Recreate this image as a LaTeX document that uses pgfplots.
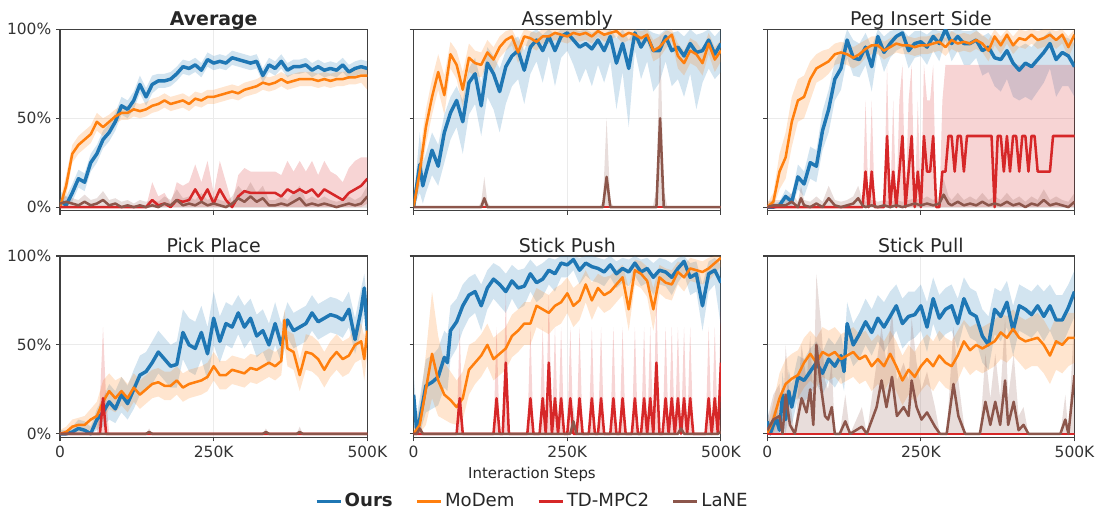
\documentclass[border=0pt]{standalone}
\usepackage{pgfplots}
\pgfplotsset{compat=1.18}
\usepackage{pgfplotstable}
\usepackage{fontspec}
\setmainfont{DejaVu Sans}
\definecolor{cO}{HTML}{1F77B4}
\definecolor{cM}{HTML}{FF7F0E}
\definecolor{cT}{HTML}{D62728}
\definecolor{cL}{HTML}{8C564B}

% ---------------- Average ----------------
\pgfplotstableread{
x y l h
0 4 0 9
10 1 0 6
20 8 3 13
30 16 11 21
40 14 9 19
50 25 20 30
60 30 25 35
70 38 33 43
80 42 37 47
90 48 43 53
100 57 52 62
110 55 50 60
120 60 55 65
130 69 64 74
140 62 57 67
150 69 64 74
160 71 67 75
170 71 67 75
180 72 68 76
190 75 71 79
200 79 75 83
210 78 74 82
220 80 76 84
230 77 73 81
240 83 79 87
250 81 77 85
260 82 78 86
270 81 77 85
280 84 80 88
290 83 79 87
300 82 78 86
310 81 77 85
320 82 78 86
330 74 70 78
340 80 76 84
350 78 74 82
360 82 78 86
370 77 73 81
380 79 75 83
390 79 75 83
400 80 76 84
410 77 73 81
420 79 75 83
430 77 73 81
440 78 74 82
450 77 73 81
460 80 76 84
470 76 72 80
480 78 74 82
490 79 75 83
500 78 74 82
}\AvgO
\pgfplotstableread{
x y l h
0 0 0 3
10 12 6 18
20 30 25 35
30 35 30 40
40 38 33 43
50 41 36 46
60 48 43 53
70 45 40 50
80 48 44 52
90 51 47 55
100 53 49 57
110 53 49 57
120 55 51 59
130 54 50 58
140 55 51 59
150 57 53 61
160 58 54 62
170 60 56 64
180 58 54 62
190 59 55 63
200 60 56 64
210 58 54 62
220 61 57 65
230 60 56 64
240 62 58 66
250 62 58 66
260 63 59 67
270 64 60 68
280 65 61 69
290 64 60 68
300 66 62 70
310 67 63 71
320 68 64 72
330 70 66 74
340 69 65 73
350 70 66 74
360 72 68 76
370 70 66 74
380 71 67 75
390 72 68 76
400 72 68 76
410 72 68 76
420 71 67 75
430 72 68 76
440 71 67 75
450 72 68 76
460 72 68 76
470 73 69 77
480 73 69 77
490 74 70 78
500 74 66 78
}\AvgM
\pgfplotstableread{
x y l h
0 0 0 0
140 0 0 0
150 4 0 14
160 1 0 6
170 2 0 8
180 0 0 2
190 4 0 14
200 3 0 12
210 4 0 14
220 10 0 24
230 4 0 14
240 10 0 26
250 2 0 8
260 10 0 26
270 4 0 14
280 0 0 2
290 6 0 18
300 9 0 22
310 8 0 20
320 8 0 20
330 8 0 20
340 8 0 20
350 8 0 20
360 6 0 18
370 10 0 26
380 8 0 20
390 10 0 26
400 8 0 20
410 10 0 26
420 6 0 18
430 10 0 26
440 8 0 20
450 6 0 18
460 4 0 14
470 8 0 22
480 10 0 26
490 12 0 28
500 16 2 28
}\AvgT
\pgfplotstableread{
x y l h
0 2 0 5
10 3 0 6
20 2 0 5
30 1 0 4
40 3 0 7
50 1 0 4
60 2 0 5
70 4 0 9
80 1 0 4
90 2 0 5
100 0 0 3
110 1 0 4
120 0 0 2
130 1 0 4
140 0 0 3
150 1 0 4
160 0 0 3
170 2 0 6
180 1 0 4
190 4 0 10
200 1 0 5
210 2 0 6
220 1 0 4
230 3 0 8
240 1 0 4
250 2 0 6
260 1 0 4
270 0 0 3
280 2 0 6
290 5 0 12
300 3 0 8
310 6 0 14
320 3 0 8
330 5 0 12
340 1 0 4
350 1 0 4
360 2 0 6
370 1 0 4
380 3 0 8
390 5 0 12
400 1 0 4
410 2 0 6
420 1 0 4
430 2 0 6
440 1 0 4
450 0 0 3
460 1 0 4
470 2 0 6
480 1 0 4
490 2 0 6
500 6 0 12
}\AvgL

% ---------------- Assembly ----------------
\pgfplotstableread{
x y l h
0 0 0 3
10 24 8 42
15 12 2 25
20 19 8 30
30 32 18 42
40 23 12 35
50 42 25 52
60 53 38 62
70 60 45 68
80 48 30 60
90 70 52 78
100 75 58 84
110 57 40 70
120 81 62 90
130 75 55 85
140 65 42 78
150 79 58 88
160 85 68 94
170 88 72 96
180 77 58 88
190 90 75 98
200 94 82 100
210 88 70 97
220 96 85 100
230 88 68 97
240 96 84 100
250 98 88 100
260 94 80 100
270 90 70 99
280 92 78 100
290 89 68 98
300 94 80 100
310 88 70 97
320 96 82 100
330 81 55 95
340 92 76 100
350 78 45 94
360 98 88 100
370 90 72 100
380 96 82 100
390 88 65 98
400 88 70 97
410 96 82 100
420 88 68 98
430 90 72 99
440 85 62 96
450 92 75 100
460 87 55 97
470 88 70 98
480 94 78 100
490 86 72 96
500 92 76 100
}\AsmO
\pgfplotstableread{
x y l h
0 0 0 2
10 20 12 30
20 45 35 55
30 62 52 72
40 76 66 86
50 63 52 74
60 86 78 93
70 80 72 88
80 66 56 76
90 84 76 92
100 81 74 88
110 80 73 87
120 87 80 94
130 83 76 90
140 90 84 96
150 94 88 99
160 96 91 100
170 87 81 93
180 96 91 100
190 95 90 99
200 93 88 98
210 96 92 100
220 96 92 100
230 98 94 100
240 97 93 100
250 96 92 100
260 98 94 100
270 97 93 100
280 98 94 100
290 96 92 100
300 99 96 100
310 97 93 100
320 98 94 100
330 99 96 100
340 96 92 100
350 98 94 100
360 97 93 100
370 95 90 99
380 97 93 100
390 88 82 94
400 90 84 96
410 94 89 99
420 97 93 100
430 85 78 92
440 81 74 88
450 88 81 95
460 86 79 93
470 81 74 88
480 92 86 98
490 83 76 90
500 88 82 94
}\AsmM
\pgfplotstableread{
x y l h
0 0 0 0
500 0 0 0
}\AsmT
\pgfplotstableread{
x y l h
0 0 0 0
105 0 0 0
110 0 0 3
115 5 0 17
120 0 0 3
125 0 0 0
302 0 0 0
308 0 0 3
314 17 0 50
320 0 0 3
326 0 0 0
389 0 0 0
395 0 0 10
401 50 0 100
407 0 0 10
413 0 0 0
500 0 0 0
}\AsmL

% ---------------- Peg Insert Side ----------------
\pgfplotstableread{
x y l h
0 0 0 1
10 0 0 2
20 1 0 3
30 6 2 10
40 3 0 7
50 17 10 24
60 13 6 20
70 25 16 34
80 23 14 32
90 43 32 54
100 55 42 66
110 72 60 82
120 78 66 88
130 94 84 100
140 84 74 94
150 83 73 92
160 90 80 98
170 79 65 90
180 96 88 100
190 87 76 96
200 92 84 99
210 96 88 100
220 98 90 100
230 88 78 96
240 92 84 99
250 93 85 99
260 90 80 97
270 96 88 100
280 92 82 99
290 100 94 100
300 92 82 99
310 96 88 100
320 92 80 99
330 92 80 99
340 94 84 100
350 88 74 96
360 90 76 98
370 84 68 94
380 83 65 94
390 88 72 96
400 81 62 92
410 77 60 90
420 81 62 92
430 79 60 90
440 83 65 94
450 87 70 96
460 92 78 99
470 83 62 94
480 87 68 96
490 85 68 95
500 79 62 92
}\PegO
\pgfplotstableread{
x y l h
0 0 0 2
10 3 0 8
20 20 10 30
30 28 16 42
40 48 34 62
50 60 48 72
60 62 50 74
70 72 60 82
80 78 70 86
90 80 72 88
100 82 75 89
110 86 80 92
120 87 81 93
130 86 80 92
140 84 78 90
150 86 80 92
160 89 84 94
170 91 86 96
180 91 86 96
190 88 83 93
200 90 85 95
210 92 87 97
220 91 86 96
230 91 86 96
240 90 85 95
250 91 86 96
260 91 86 96
270 92 87 97
280 93 88 98
290 90 85 95
300 94 89 99
310 92 87 97
320 93 88 98
330 92 87 97
340 94 89 99
350 92 87 97
360 88 82 94
370 96 91 100
380 91 86 96
390 97 92 100
400 91 86 96
410 95 90 100
420 94 89 99
430 97 92 100
440 94 89 99
450 95 90 100
460 97 92 100
470 94 89 99
480 97 92 100
490 90 84 96
500 97 92 100
}\PegM
\pgfplotstableread{
x y l h
0 0 0 0
155 0 0 0
160 20 0 60
165 0 0 0
170 20 0 60
175 0 0 0
190 0 0 0
195 40 0 80
200 0 0 0
205 20 0 60
210 0 0 0
215 20 0 60
220 40 0 80
225 0 0 0
230 20 0 60
235 40 0 80
240 0 0 0
245 20 0 60
250 0 0 0
255 40 0 80
260 20 0 60
265 20 0 60
270 40 0 80
275 0 0 0
280 0 0 0
285 20 0 60
290 20 0 80
295 40 0 80
300 40 0 80
305 20 0 80
310 40 0 80
315 40 0 80
320 20 0 80
325 40 0 80
330 40 0 80
340 40 0 80
350 40 0 80
360 40 0 80
365 40 0 80
370 0 0 80
375 40 0 80
380 40 0 80
385 20 0 80
390 40 0 80
395 20 0 80
400 40 0 80
405 40 0 80
410 20 0 80
415 40 0 80
420 40 0 80
425 20 0 80
430 40 0 80
435 40 0 80
440 20 0 80
450 20 0 80
460 20 0 80
465 40 0 80
480 40 0 80
500 40 0 80
}\PegT
\pgfplotstableread{
x y l h
0 0 0 3
10 1 0 4
20 1 0 4
30 1 0 4
40 3 0 8
50 0 0 3
55 5 0 12
60 1 0 4
70 0 0 3
80 2 0 6
90 0 0 3
100 5 0 12
110 1 0 4
120 0 0 3
130 1 0 4
140 2 0 6
148 5 0 12
155 1 0 4
160 0 0 3
170 1 0 4
180 0 0 3
190 1 0 4
200 0 0 3
210 1 0 4
220 0 0 3
230 1 0 4
240 2 0 5
250 1 0 4
260 2 0 6
270 1 0 4
280 2 0 6
287 7 0 16
295 2 0 6
300 1 0 4
310 3 0 8
320 1 0 4
330 2 0 6
340 1 0 4
350 3 0 8
360 1 0 4
370 2 0 6
380 1 0 4
390 3 0 8
400 1 0 4
410 2 0 6
420 0 0 3
430 2 0 6
440 1 0 4
450 4 0 10
460 1 0 4
470 2 0 6
480 1 0 4
490 0 0 3
500 3 0 8
}\PegL

% ---------------- Pick Place ----------------
\pgfplotstableread{
x y l h
0 0 0 2
10 0 0 2
20 1 0 4
30 3 0 8
40 2 0 7
50 0 0 4
60 8 2 14
70 12 4 20
80 18 8 28
90 14 6 24
100 22 12 32
110 17 8 27
120 25 14 36
130 33 22 44
140 35 24 46
150 40 28 52
160 46 34 58
170 42 30 54
180 38 26 50
190 39 26 52
200 57 42 70
210 50 35 65
220 48 33 63
230 57 42 72
240 45 30 60
250 65 50 80
260 52 40 66
270 62 50 74
280 60 48 72
290 68 56 78
300 60 48 72
310 65 53 76
320 55 43 67
330 58 46 70
340 50 38 62
350 62 50 74
360 50 40 62
370 64 54 74
380 58 48 68
390 60 50 70
400 62 52 72
410 68 58 78
420 63 53 73
430 65 55 75
440 67 57 77
450 66 56 76
460 64 54 74
470 70 60 80
480 53 45 65
490 70 58 82
495 82 68 90
500 58 45 75
}\PicO
\pgfplotstableread{
x y l h
0 0 0 2
10 1 0 4
20 4 0 8
30 5 1 9
40 5 1 10
50 8 2 14
60 10 3 18
70 18 8 30
80 24 14 34
90 20 12 30
100 24 16 32
110 20 12 28
120 26 18 34
130 22 14 30
140 25 17 33
150 28 20 36
160 29 21 37
170 27 19 35
180 27 19 35
190 30 22 38
200 26 18 34
210 28 20 36
220 29 21 37
230 30 22 38
240 32 24 40
250 38 30 46
260 33 25 41
270 33 25 41
280 36 28 44
290 35 27 43
300 34 26 42
310 37 29 45
320 36 28 44
330 38 30 46
340 40 32 48
350 38 30 46
360 41 33 49
365 64 50 70
370 48 38 58
380 46 36 56
390 33 24 42
400 46 36 56
410 45 35 55
420 42 32 52
430 36 26 46
440 42 32 52
450 46 36 56
460 42 32 52
470 44 34 54
480 50 40 60
490 52 42 62
495 42 30 55
500 58 45 68
}\PicM
\pgfplotstableread{
x y l h
0 0 0 0
60 0 0 0
65 0 0 20
70 20 0 60
75 0 0 20
80 0 0 0
500 0 0 0
}\PicT
\pgfplotstableread{
x y l h
0 0 0 0
140 0 0 0
145 1 0 3
150 0 0 0
330 0 0 0
335 1 0 3
340 0 0 0
385 0 0 0
390 1 0 4
395 0 0 0
500 0 0 0
}\PicL

% ---------------- Stick Push ----------------
\pgfplotstableread{
x y l h
0 22 5 35
5 2 0 10
10 8 0 20
20 27 12 42
30 29 14 44
40 32 16 48
50 43 26 58
55 40 24 56
60 58 42 72
70 63 48 76
80 72 58 84
90 78 65 88
100 80 68 90
110 72 58 84
120 82 70 92
130 87 76 96
140 84 72 94
150 80 68 90
160 86 76 95
170 82 70 92
180 83 72 93
190 90 80 98
200 85 74 94
210 87 77 96
220 92 84 99
230 90 80 98
240 96 88 100
250 95 88 100
260 98 92 100
270 92 84 99
280 96 89 100
290 94 86 100
300 93 85 99
310 91 83 98
320 95 88 100
330 90 82 97
340 93 85 99
350 91 83 98
360 96 89 100
370 91 83 98
380 93 85 99
390 88 78 96
400 92 84 99
410 91 83 98
420 88 78 96
430 93 85 99
440 97 90 100
450 88 78 96
460 90 80 97
470 72 58 84
480 90 80 97
490 92 84 99
500 85 60 95
}\PusO
\pgfplotstableread{
x y l h
0 0 0 3
10 5 0 15
20 25 5 45
30 45 20 80
40 30 10 55
50 22 8 40
60 19 6 35
70 15 5 30
80 20 8 35
90 36 22 50
100 40 28 52
110 44 32 56
120 50 38 62
130 42 30 54
140 45 33 57
150 48 36 60
160 55 43 67
170 58 46 70
180 62 50 74
190 62 50 74
200 72 60 82
210 70 58 80
220 68 56 78
230 72 60 82
240 74 62 84
250 79 68 88
260 72 60 82
270 75 64 85
280 84 74 92
290 75 64 85
300 82 72 90
310 78 68 88
320 80 70 89
330 84 74 92
340 88 78 95
350 70 58 82
360 92 84 98
370 90 82 97
380 86 77 94
390 70 58 82
400 88 79 95
410 85 76 93
420 84 75 92
430 91 84 97
440 88 80 95
450 93 86 99
460 92 85 98
470 91 84 97
480 93 86 99
490 96 90 100
500 99 94 100
}\PusM
\pgfplotstableread{
x y l h
0 0 0 0
70 0 0 0
75 20 0 60
80 0 0 0
130 0 0 0
135 20 0 60
140 0 0 0
145 0 0 0
150 40 0 80
155 0 0 0
185 0 0 0
190 20 0 60
195 0 0 0
205 0 0 0
210 20 0 60
215 0 0 0
220 40 0 80
225 0 0 0
230 20 0 60
235 0 0 0
240 20 0 60
245 0 0 0
250 0 0 0
255 20 0 60
260 0 0 0
265 0 0 0
270 20 0 60
275 0 0 0
285 0 0 0
290 20 0 60
295 0 0 0
300 0 0 0
305 20 0 60
310 0 0 0
320 0 0 0
325 20 0 60
330 0 0 0
335 0 0 0
340 20 0 60
345 0 0 0
355 0 0 0
360 20 0 60
365 0 0 0
370 0 0 0
375 20 0 60
380 0 0 0
385 20 0 60
390 0 0 0
395 40 0 80
400 0 0 0
405 0 0 0
410 20 0 60
415 0 0 0
420 20 0 60
425 0 0 0
430 20 0 60
435 0 0 0
440 20 0 60
445 0 0 0
450 20 0 60
455 0 0 0
475 0 0 0
480 20 0 60
485 0 0 0
490 20 0 60
495 0 0 0
500 40 0 80
}\PusT
\pgfplotstableread{
x y l h
0 0 0 0
5 0 0 0
10 3 0 8
15 0 0 0
255 0 0 0
260 7 0 16
265 0 0 0
430 0 0 0
435 3 0 8
440 0 0 0
495 0 0 0
500 1 0 4
}\PusL

% ---------------- Stick Pull ----------------
\pgfplotstableread{
x y l h
0 7 0 15
5 0 0 6
10 5 0 12
15 8 0 16
20 2 0 8
25 22 8 35
30 8 0 18
35 24 12 36
40 15 5 28
50 32 20 44
60 30 18 42
70 35 22 48
80 40 28 52
90 34 22 46
100 42 30 54
110 38 26 50
120 44 32 56
125 35 24 46
130 62 48 74
140 50 38 62
150 56 42 68
160 63 50 76
170 57 44 70
180 65 52 78
190 60 46 74
200 66 52 80
210 72 58 84
220 62 48 76
230 66 52 80
240 67 54 80
250 72 58 84
260 60 46 74
270 76 62 88
280 65 52 78
290 70 56 82
300 72 58 84
310 62 48 76
320 76 62 88
330 68 54 82
340 66 52 80
350 55 40 70
360 50 36 66
370 70 56 82
380 66 52 80
390 74 60 86
400 58 44 72
410 72 58 84
420 70 56 82
430 67 54 80
440 72 58 84
450 66 52 80
460 72 58 84
470 64 50 78
480 64 50 78
490 71 58 84
500 80 66 92
}\PulO
\pgfplotstableread{
x y l h
0 0 0 3
10 8 0 18
20 20 8 34
30 28 15 42
40 31 18 45
50 33 20 47
60 40 26 54
70 45 30 58
80 40 26 54
90 46 32 60
100 44 30 58
110 46 32 60
120 42 28 56
130 44 30 58
140 46 32 60
150 42 28 56
160 44 30 58
170 38 24 52
180 42 28 56
190 38 24 52
200 45 30 58
210 38 24 52
220 30 16 44
230 36 22 50
240 32 18 46
250 38 24 52
260 42 28 56
270 38 24 52
280 44 30 58
290 40 26 54
300 38 24 52
310 44 30 58
320 52 38 64
330 47 33 60
340 50 36 62
350 48 34 60
360 50 36 62
370 52 38 64
380 57 42 68
390 54 40 66
400 59 44 70
410 54 40 66
420 52 36 64
430 53 38 66
440 54 38 68
450 50 34 64
460 44 28 58
470 52 36 66
480 50 34 64
490 54 38 68
500 54 40 68
}\PulM
\pgfplotstableread{
x y l h
0 0 0 0
500 0 0 0
}\PulT
\pgfplotstableread{
x y l h
0 2 0 8
10 8 0 22
20 10 0 28
25 0 0 0
30 22 0 50
37 5 0 18
45 0 0 0
56 20 0 50
64 12 0 30
70 25 0 55
75 5 0 20
80 50 0 90
88 25 0 60
94 10 0 30
99 8 0 25
105 15 0 40
110 0 0 0
118 0 0 0
127 7 0 22
135 0 0 0
154 4 0 15
162 0 0 0
178 15 0 40
186 30 0 60
194 15 0 40
203 32 0 70
211 10 0 30
222 15 0 40
230 10 0 30
235 30 0 65
243 15 0 40
251 8 0 25
260 12 0 35
273 4 0 15
281 0 0 0
292 0 0 0
303 28 0 60
311 10 0 30
322 0 0 0
346 0 0 0
355 18 0 45
363 5 0 20
371 18 0 45
379 5 0 20
387 30 0 65
392 5 0 20
401 18 0 45
409 2 0 10
417 5 0 15
425 0 0 0
477 0 0 0
485 8 0 22
490 0 0 0
500 33 0 70
}\PulL

% band polygon: upper edge forward, lower edge backward
\newcommand{\mkband}[2]{%
  \pgfplotstablesort[sort key=x, sort cmp=float <]{#2}{#1}%
  \pgfplotstablesort[sort key=x, sort cmp=float >]{\tmprev}{#1}%
  \pgfplotstablecreatecol[create col/copy=h]{b}{#2}%
  \pgfplotstablecreatecol[create col/copy=l]{b}{\tmprev}%
  \pgfplotstablevertcat{#2}{\tmprev}%
}
\mkband{\AvgO}{\AvgOb}\mkband{\AvgM}{\AvgMb}\mkband{\AvgT}{\AvgTb}\mkband{\AvgL}{\AvgLb}
\mkband{\AsmO}{\AsmOb}\mkband{\AsmM}{\AsmMb}\mkband{\AsmL}{\AsmLb}
\mkband{\PegO}{\PegOb}\mkband{\PegM}{\PegMb}\mkband{\PegT}{\PegTb}\mkband{\PegL}{\PegLb}
\mkband{\PicO}{\PicOb}\mkband{\PicM}{\PicMb}\mkband{\PicT}{\PicTb}\mkband{\PicL}{\PicLb}
\mkband{\PusO}{\PusOb}\mkband{\PusM}{\PusMb}\mkband{\PusT}{\PusTb}\mkband{\PusL}{\PusLb}
\mkband{\PulO}{\PulOb}\mkband{\PulM}{\PulMb}\mkband{\PulL}{\PulLb}

\newcommand{\bnd}[2]{%
  \addplot[fill=#2, fill opacity=0.2, draw=none, forget plot] table[x=x,y=b]{#1};
}
\newcommand{\lines}[4]{%
  \addplot[cO, line width=2.6pt, line join=round] table[x=x,y=y]{#1};
  \addplot[cM, line width=1.9pt, line join=round] table[x=x,y=y]{#2};
  \addplot[cT, line width=1.9pt, line join=round] table[x=x,y=y]{#3};
  \addplot[cL, line width=1.9pt, line join=round] table[x=x,y=y]{#4};
}

\pgfplotsset{
  panel/.style={
    scale only axis, width=230.5pt, height=136pt,
    xmin=0, xmax=500, ymin=-2, ymax=100,
    xtick={0,250,500}, ytick={0,50,100},
    xticklabels={0,250K,500K}, yticklabels={0\%,50\%,100\%},
    xtick pos=bottom, ytick pos=left,
    tick align=outside, major tick length=3pt,
    grid=major, major grid style={black!8, line width=0.7pt},
    axis line style={black!75, line width=0.8pt},
    every tick/.style={black!75, line width=0.8pt},
    tick label style={font=\fontsize{11.6}{13}\selectfont, text=black!80},
    title style={font=\fontsize{14.2}{16}\selectfont, text=black!85, at={(0.5,1)}, anchor=base, yshift=-3pt},
    /pgf/number format/assume math mode=true,
    anchor=north west,
  },
  noxl/.style={xticklabels={}},
  noyl/.style={yticklabels={}},
}

\begin{document}
\begin{tikzpicture}
\path[use as bounding box] (-45pt,22pt) rectangle (781.5pt,-365.8pt);

\begin{axis}[panel, noxl, at={(0pt,0pt)}, title={\textbf{Average}}]
\bnd{\AvgOb}{cO}\bnd{\AvgMb}{cM}\bnd{\AvgTb}{cT}\bnd{\AvgLb}{cL}
\lines{\AvgO}{\AvgM}{\AvgT}{\AvgL}
\end{axis}

\begin{axis}[panel, noxl, noyl, at={(265.2pt,0pt)}, title={Assembly}]
\bnd{\AsmOb}{cO}\bnd{\AsmMb}{cM}\bnd{\AsmLb}{cL}
\lines{\AsmO}{\AsmM}{\AsmT}{\AsmL}
\end{axis}

\begin{axis}[panel, noxl, noyl, at={(530.4pt,0pt)}, title={Peg Insert Side}]
\bnd{\PegOb}{cO}\bnd{\PegMb}{cM}\bnd{\PegTb}{cT}\bnd{\PegLb}{cL}
\lines{\PegO}{\PegM}{\PegT}{\PegL}
\end{axis}

\begin{axis}[panel, at={(0pt,-170pt)}, title={Pick Place}]
\bnd{\PicOb}{cO}\bnd{\PicMb}{cM}\bnd{\PicTb}{cT}\bnd{\PicLb}{cL}
\lines{\PicO}{\PicM}{\PicT}{\PicL}
\end{axis}

\begin{axis}[panel, noyl, at={(265.2pt,-170pt)}, title={Stick Push},
  legend columns=4,
  legend entries={\textbf{Ours},MoDem,TD-MPC2,LaNE},
  legend style={at={(0.3876,-0.352)}, anchor=center, draw=none, fill=none,
    font=\fontsize{13.6}{15}\selectfont, text=black!85,
    /tikz/every even column/.append style={column sep=15pt}},
  legend image code/.code={\draw[#1, line width=2.2pt] (0pt,0pt) -- (18pt,0pt);},
]
\bnd{\PusOb}{cO}\bnd{\PusMb}{cM}\bnd{\PusTb}{cT}\bnd{\PusLb}{cL}
\lines{\PusO}{\PusM}{\PusT}{\PusL}
\end{axis}

\begin{axis}[panel, noyl, at={(530.4pt,-170pt)}, title={Stick Pull}]
\bnd{\PulOb}{cO}\bnd{\PulMb}{cM}\bnd{\PulLb}{cL}
\lines{\PulO}{\PulM}{\PulT}{\PulL}
\end{axis}

\node[font=\fontsize{11.2}{13}\selectfont, text=black!85] at (354pt,-333.7pt) {Interaction Steps};
\end{tikzpicture}
\end{document}
